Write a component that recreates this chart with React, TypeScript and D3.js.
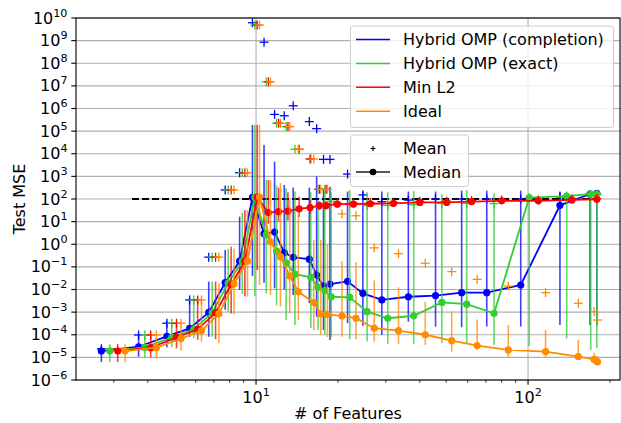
import React from 'react';
import * as d3 from 'd3';

// ---------- data (values stored as log10 exponents) ----------
const seriesNames = ['Hybrid OMP (completion)', 'Hybrid OMP (exact)', 'Min L2', 'Ideal'];
const seriesColors = ['#0000ff', '#32cd32', '#ff0000', '#ff8c00'];

const blueX = [2.7, 3.7, 4.7, 5.7, 6.7, 7.7, 8.7, 9.7, 10.7, 11.7, 12.7, 13.7, 15.7, 16.7, 17.7, 18.7, 21.7, 24.7, 29, 36.3, 45.7, 57, 70.5, 94, 131, 169, 179];
const blueMed = [-4.72, -4.53, -4.07, -3.72, -3.01, -1.7, -0.75, 2.07, 0.46, 0.54, -0.37, -0.58, -0.66, -1.36, -1.85, -1.76, -1.64, -2.17, -2.46, -2.32, -2.27, -2.14, -2.14, -1.8, 1.72, 2.22, 2.25];
const blueLo = [-5.21, -4.97, -4.55, -4.09, -4.09, -2.9, -2.02, -1.4, -1.7, -1.95, -2.0, -2.24, -2.6, -3.2, -3.79, -4.23, -3.49, -3.6, -4.0, -3.42, -3.64, -3.67, -3.64, -3.64, -3.57, -3.57, -3.6];
const blueHi = [-4.5, -4.01, -3.39, -2.39, -1.65, -0.25, 1.22, 5.27, 4.39, 3.65, 2.62, 2.5, 2.5, 3.0, 2.4, 2.54, 2.33, 2.33, 2.33, 2.33, 2.33, 2.37, 2.37, 2.37, 2.33, 2.33, 2.33];
const blueMean = [-4.62, -4.01, -3.49, -2.46, -0.57, 2.4, 3.16, 9.79, 8.93, 5.74, 5.68, 6.12, 5.42, 5.11, 3.75, 3.75, 3.1, 2.18, 1.88, 1.95, 2.0, 2.0, 2.0, 2.0, 2.1, 2.2, 2.2];

const greenX = [2.9, 3.9, 4.9, 5.9, 6.9, 7.9, 8.9, 9.9, 10.9, 11.9, 12.9, 13.9, 15.9, 16.9, 17.9, 18.9, 22.1, 25.6, 30.5, 38, 48.2, 59.5, 75, 101, 138.7, 170, 179];
const greenMed = [-4.72, -4.56, -4.11, -3.76, -3.02, -1.72, -0.75, 2.07, 0.41, -0.3, -0.82, -1.32, -1.46, -1.9, -2.05, -2.32, -2.35, -2.98, -3.27, -3.16, -2.57, -2.65, -3.05, 2.06, 2.13, 2.22, 2.22];
const greenLo = [-5.21, -5.0, -4.55, -4.16, -4.09, -3.0, -2.2, -2.3, -2.17, -2.7, -3.35, -3.57, -3.7, -3.79, -4.0, -4.1, -4.2, -4.3, -4.4, -4.4, -4.38, -4.38, -4.45, -4.5, -4.16, -4.67, -4.6];
const greenHi = [-4.55, -4.03, -3.49, -2.46, -1.65, -0.2, 1.4, 5.27, 2.84, 2.6, 2.47, 2.33, 2.3, 1.96, 2.3, 2.3, 2.4, 2.3, 2.3, 2.35, 2.22, 2.4, 2.25, 2.25, 2.25, 2.25, 2.25];
const greenMean = [-4.62, -4.01, -3.49, -2.46, -0.57, 2.4, 3.16, 9.69, 7.18, 5.35, 5.2, 4.2, 3.77, 2.43, 2.43, 1.9, 1.8, 1.71, 1.71, 1.75, 1.8, 1.8, 1.8, 2.06, 2.13, 2.2, 2.2];

const redX = [3.1, 4.1, 5.1, 6.1, 7.1, 8.1, 9.1, 10.1, 11.1, 12.1, 13.1, 14.4, 15.8, 17.1, 18.1, 19.9, 22.8, 26.3, 32, 40, 50.2, 62, 80, 109, 145, 179];
const redMed = [-4.72, -4.57, -4.12, -3.76, -3.03, -1.78, -0.75, 2.08, 1.4, 1.44, 1.46, 1.57, 1.62, 1.71, 1.71, 1.77, 1.77, 1.79, 1.81, 1.85, 1.85, 1.88, 1.92, 1.92, 1.96, 1.99];
const redLo = [-5.21, -5.0, -4.6, -4.23, -4.2, -3.06, -2.3, -1.14, 0.9, 1.0, 1.05, 1.2, 1.35, 1.5, 1.55, 1.62, 1.65, 1.7, 1.72, 1.76, 1.78, 1.8, 1.85, 1.86, 1.9, 1.94];
const redHi = [-4.55, -4.05, -3.45, -2.39, -1.65, -0.11, 1.5, 5.27, 2.84, 2.5, 2.3, 2.1, 1.95, 1.9, 1.9, 1.9, 1.9, 1.9, 1.9, 1.93, 1.93, 1.95, 1.98, 1.98, 2.0, 2.03];
const redMean = [-4.62, -4.01, -3.49, -2.46, -0.57, 2.4, 3.16, 9.69, 7.18, 5.35, 5.2, 4.2, 3.77, 2.43, 2.43, 1.82, 1.82, 1.84, 1.86, 1.9, 1.9, 1.93, 1.96, 1.96, 2.0, 2.02];

const orangeX = [3.3, 4.3, 5.3, 6.3, 7.3, 8.3, 9.3, 10.3, 11.3, 12.3, 13.3, 14.3, 16.3, 17.3, 18.3, 20.7, 23.3, 27.2, 33.4, 41.9, 52.4, 65, 84.6, 116, 153, 175, 180];
const orangeMed = [-4.72, -4.57, -4.17, -3.82, -3.07, -1.75, -0.75, 2.08, 0.11, -0.55, -1.4, -2.1, -2.58, -3.08, -3.1, -3.17, -3.27, -3.71, -3.82, -4.0, -4.26, -4.48, -4.67, -4.75, -4.97, -5.09, -5.19];
const orangeLo = [-5.21, -5.05, -4.7, -4.31, -4.38, -3.1, -2.32, -1.8, -2.24, -2.75, -3.05, -3.35, -3.8, -4.0, -4.1, -4.09, -4.2, -4.3, -4.4, -4.45, -4.75, -4.67, -5.0, -5.0, -5.1, -5.3, -5.35];
const orangeHi = [-4.6, -4.16, -3.57, -2.46, -1.72, -0.2, 1.51, 5.27, 2.84, 2.71, 1.96, 1.31, 0.2, 0.2, 0.0, -0.75, -0.8, -1.6, -1.9, -2.54, -2.98, -3.33, -3.57, -3.79, -4.23, -4.8, -4.95];
const orangeMean = [-4.62, -4.01, -3.49, -2.46, -0.57, 2.4, 3.16, 9.69, 7.18, 5.35, 5.2, 4.2, 3.77, 2.43, 2.43, 1.34, 1.26, -0.16, -0.42, -0.84, -1.21, -1.55, -1.85, -2.14, -2.61, -2.98, -3.35];

const baselineX = [3.5, 180];
const baselineY = [100, 100];

const yTickExps = d3.range(-6, 11);
const xMajorTicks = [10, 100];
const xMinorTicks = [3, 4, 5, 6, 7, 8, 9, 20, 30, 40, 50, 60, 70, 80, 90, 200];
const xDomain = [2.178, 217.8];
const yDomain = [1e-6, 1e10];

const xLabel = '# of Features';
const yLabel = 'Test MSE';
const styleLegend = ['Mean', 'Median'];

// ---------- layout ----------
const W = 621, H = 423;
const L = 76, R = 620, T = 18, B = 380;
const FONT = 'DejaVu Sans, sans-serif';

const p10 = (v: number) => Math.pow(10, v);

export default function App() {
  const x = d3.scaleLog().domain(xDomain).range([L, R]);
  const y = d3.scaleLog().domain(yDomain).range([B, T]);

  const series = [
    { xs: blueX, med: blueMed, lo: blueLo, hi: blueHi, mean: blueMean },
    { xs: greenX, med: greenMed, lo: greenLo, hi: greenHi, mean: greenMean },
    { xs: redX, med: redMed, lo: redLo, hi: redHi, mean: redMean },
    { xs: orangeX, med: orangeMed, lo: orangeLo, hi: orangeHi, mean: orangeMean },
  ];

  const line = d3
    .line<[number, number]>()
    .x((d) => x(d[0]))
    .y((d) => y(d[1]));

  const supTick = (e: number) => (e < 0 ? '\u2212' + Math.abs(e) : String(e));

  return (
    <svg
      width={W}
      height={H}
      style={{ position: 'absolute', left: 0, top: 0, display: 'block', background: '#fff' }}
      fontFamily={FONT}
    >
      <defs>
        <clipPath id="plot">
          <rect x={L} y={T} width={R - L} height={B - T} />
        </clipPath>
      </defs>
      <rect x={0} y={0} width={W} height={H} fill="#fff" />

      {/* grid */}
      {yTickExps.map((e) => (
        <line key={'gy' + e} x1={L} x2={R} y1={y(p10(e))} y2={y(p10(e))} stroke="#b0b0b0" strokeWidth={1.1} />
      ))}
      {xMajorTicks.map((t) => (
        <line key={'gx' + t} x1={x(t)} x2={x(t)} y1={T} y2={B} stroke="#b0b0b0" strokeWidth={1.1} />
      ))}

      <g clipPath="url(#plot)">
        {/* dashed reference */}
        <path
          d={line(baselineX.map((v, i) => [v, baselineY[i]]) as [number, number][]) || ''}
          fill="none"
          stroke="#000"
          strokeWidth={2}
          strokeDasharray="7,3"
        />
        {series.map((s, si) => {
          const c = seriesColors[si];
          const pts = s.xs.map((v, i) => [v, p10(s.med[i])] as [number, number]);
          return (
            <g key={'s' + si}>
              {s.xs.map((v, i) => (
                <line
                  key={'e' + i}
                  x1={x(v)}
                  x2={x(v)}
                  y1={y(p10(s.lo[i]))}
                  y2={y(p10(s.hi[i]))}
                  stroke={c}
                  strokeWidth={1.6}
                  opacity={0.75}
                />
              ))}
              <path d={line(pts) || ''} fill="none" stroke={c} strokeWidth={1.8} />
              {pts.map((p, i) => (
                <circle key={'m' + i} cx={x(p[0])} cy={y(p[1])} r={3.6} fill={c} />
              ))}
              {s.xs.map((v, i) => {
                const cx = x(v);
                const cy = y(p10(s.mean[i]));
                return (
                  <g key={'mn' + i} stroke={c} strokeWidth={1.3}>
                    <line x1={cx - 4.5} x2={cx + 4.5} y1={cy} y2={cy} />
                    <line x1={cx} x2={cx} y1={cy - 4.5} y2={cy + 4.5} />
                  </g>
                );
              })}
            </g>
          );
        })}
      </g>

      {/* spines */}
      <rect x={L} y={T} width={R - L} height={B - T} fill="none" stroke="#000" strokeWidth={1.1} />

      {/* y ticks */}
      {yTickExps.map((e) => {
        const py = y(p10(e));
        return (
          <g key={'yt' + e}>
            <line x1={L - 4.7} x2={L} y1={py} y2={py} stroke="#000" strokeWidth={1.1} />
            <text x={L - 8.5} y={py + 5.5} textAnchor="end" fontSize={16} fill="#000">
              <tspan>10</tspan>
              <tspan dy={-7} fontSize={11.2}>
                {supTick(e)}
              </tspan>
            </text>
          </g>
        );
      })}

      {/* x ticks */}
      {xMajorTicks.map((t) => {
        const px = x(t);
        return (
          <g key={'xt' + t}>
            <line x1={px} x2={px} y1={B} y2={B + 4.7} stroke="#000" strokeWidth={1.1} />
            <text x={px} y={403} textAnchor="middle" fontSize={16} fill="#000">
              <tspan>10</tspan>
              <tspan dy={-7} fontSize={11.2}>
                {supTick(Math.round(Math.log10(t)))}
              </tspan>
            </text>
          </g>
        );
      })}
      {xMinorTicks.map((t) => (
        <line key={'xm' + t} x1={x(t)} x2={x(t)} y1={B} y2={B + 2.8} stroke="#000" strokeWidth={0.8} />
      ))}

      {/* axis labels */}
      <text x={(L + R) / 2} y={419} textAnchor="middle" fontSize={16} fill="#000">
        {xLabel}
      </text>
      <text
        transform={`translate(25,${(T + B) / 2}) rotate(-90)`}
        textAnchor="middle"
        fontSize={16}
        fill="#000"
      >
        {yLabel}
      </text>

      {/* legend 1 */}
      <g>
        <rect x={350.5} y={26} width={263} height={101.5} rx={3} fill="#fff" fillOpacity={0.8} stroke="#cccccc" strokeWidth={1} />
        {seriesNames.map((n, i) => {
          const cy = 39.5 + i * 23.9;
          return (
            <g key={'lg' + i}>
              <line x1={356} x2={390} y1={cy} y2={cy} stroke={seriesColors[i]} strokeWidth={1.5} />
              <text x={403} y={cy + 5.8} fontSize={16} fill="#000">
                {n}
              </text>
            </g>
          );
        })}
      </g>

      {/* legend 2 */}
      <g>
        <rect x={350.5} y={135} width={118} height={51.5} rx={3} fill="#fff" fillOpacity={0.8} stroke="#cccccc" strokeWidth={1} />
        <g stroke="#000" strokeWidth={1.1}>
          <line x1={370.5} x2={375.5} y1={148.5} y2={148.5} />
          <line x1={373} x2={373} y1={146} y2={151} />
        </g>
        <text x={403} y={148.5 + 5.8} fontSize={16} fill="#000">
          {styleLegend[0]}
        </text>
        <line x1={356} x2={390} y1={172} y2={172} stroke="#555" strokeWidth={1.8} />
        <circle cx={373} cy={172} r={3.3} fill="#000" />
        <text x={403} y={172 + 5.8} fontSize={16} fill="#000">
          {styleLegend[1]}
        </text>
      </g>
    </svg>
  );
}
